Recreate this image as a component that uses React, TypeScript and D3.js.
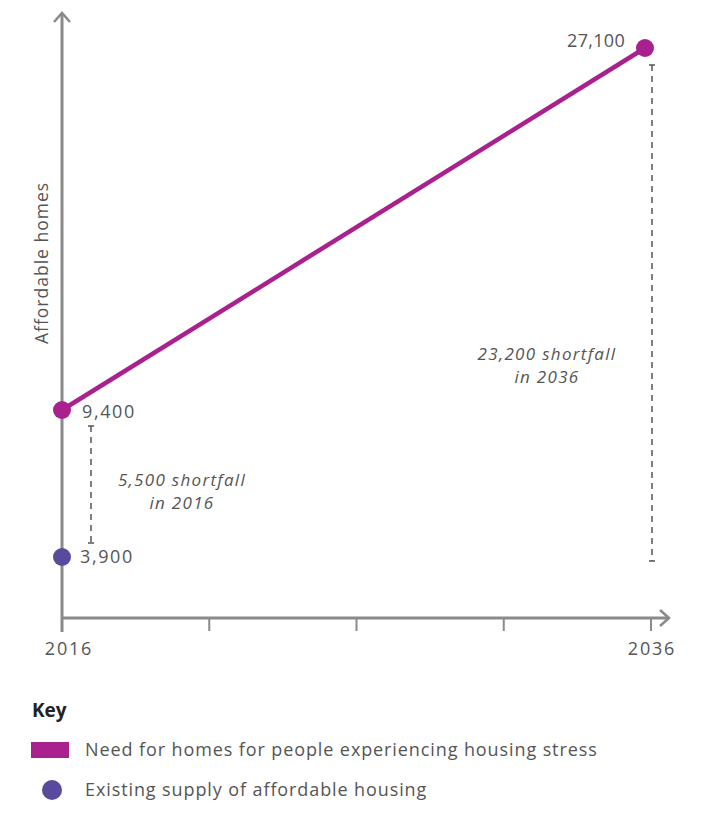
import React from "react";
import * as d3 from "d3";

const years = [2016, 2036];
const need = [9400, 27100];
const supply = [3900];
const supplyFlat = [3900, 3900];
const shortfall = [5500, 23200];
const tickYears = [2016, 2021, 2026, 2031, 2036];
const tickLabels = ["2016", "", "", "", "2036"];
const needLabels = ["9,400", "27,100"];
const supplyLabels = ["3,900"];
const legendItems = ["Need for homes for people experiencing housing stress", "Existing supply of affordable housing"];

const MAGENTA = "#A8218E";
const PURPLE = "#5A4A9E";
const AXIS = "#8a8a8a";
const TEXT = "#555";
const FONT = "'Open Sans', 'Noto Sans', sans-serif";

export default function App() {
  const W = 706, H = 814;
  const x0 = 62, x1 = 651, yAxis = 618;
  const x = d3.scaleLinear().domain([2016, 2036]).range([x0, x1]);
  const xPt = d3.scaleLinear().domain([2016, 2036]).range([x0, x1 - 6]);
  // schematic (non-uniform) vertical scale
  const y = d3.scaleLinear().domain([0, 3900, 9400, 27100]).range([yAxis, 557, 410, 48]);

  const line = d3.line<number>().x((_, i) => xPt(years[i])).y((d) => y(d));

  const dashX = [x(2016) + 29, x(2036) + 1];

  return (
    <div style={{ margin: -8 }}>
      <svg width={W} height={H} style={{ display: "block", fontFamily: FONT }}>
        {/* axes */}
        <line x1={x0} x2={x0} y1={yAxis + 14} y2={14} stroke={AXIS} strokeWidth={3} />
        <path d={`M${x0 - 8},${22} L${x0},${13} L${x0 + 8},${22}`} fill="none" stroke={AXIS} strokeWidth={2.5} />
        <line x1={x0} x2={668} y1={yAxis} y2={yAxis} stroke={AXIS} strokeWidth={3} />
        <path d={`M${660},${610} L${669},${618} L${660},${626}`} fill="none" stroke={AXIS} strokeWidth={2.5} />
        {tickYears.map((t, i) => (
          <g key={t}>
            <line x1={x(t)} x2={x(t)} y1={yAxis} y2={yAxis + 13} stroke={AXIS} strokeWidth={2} />
            {tickLabels[i] && (
              <text x={x(t) + (i === 0 ? 7 : 1)} y={655} textAnchor="middle" fontSize={18} fill={TEXT} letterSpacing={1.8}>
                {tickLabels[i]}
              </text>
            )}
          </g>
        ))}
        <text transform={`translate(48,263) rotate(-90)`} textAnchor="middle" fontSize={17.5} fill={TEXT} letterSpacing={1}>
          Affordable homes
        </text>

        {/* shortfall dashed lines */}
        {years.map((yr, i) => {
          const top = y(need[i]) + (i === 0 ? 16 : 17);
          const bot = y(supplyFlat[i]) - (i === 0 ? 14 : -4);
          return (
            <g key={yr} stroke="#555" strokeWidth={1.5}>
              <line x1={dashX[i]} x2={dashX[i]} y1={top} y2={bot} strokeDasharray="6,5" />
              <line x1={dashX[i] - 3} x2={dashX[i] + 3} y1={top} y2={top} />
              <line x1={dashX[i] - 3} x2={dashX[i] + 3} y1={bot} y2={bot} />
            </g>
          );
        })}
        <g fontSize={17} fill={TEXT} fontStyle="italic" textAnchor="middle" letterSpacing={1.3}>
          <text x={182} y={486}>{`${d3.format(",")(shortfall[0])} shortfall`}</text>
          <text x={182} y={509}>in 2016</text>
          <text x={547} y={360}>{`${d3.format(",")(shortfall[1])} shortfall`}</text>
          <text x={547} y={383}>in 2036</text>
        </g>

        {/* need line */}
        <path d={line(need) || ""} fill="none" stroke={MAGENTA} strokeWidth={4.5} />
        {need.map((v, i) => (
          <circle key={i} cx={xPt(years[i])} cy={y(v)} r={9} fill={MAGENTA} />
        ))}
        <text x={xPt(2016) + 20} y={y(need[0]) + 8} fontSize={18} fill={TEXT} letterSpacing={1.6}>{needLabels[0]}</text>
        <text x={xPt(2036) - 20} y={y(need[1]) - 1} textAnchor="end" fontSize={18} fill={TEXT} letterSpacing={0.3}>{needLabels[1]}</text>

        {/* supply */}
        {supply.map((v, i) => (
          <g key={i}>
            <circle cx={xPt(years[i])} cy={y(v)} r={9} fill={PURPLE} />
            <text x={xPt(years[i]) + 18} y={y(v) + 6} fontSize={18} fill={TEXT} letterSpacing={1.6}>{supplyLabels[i]}</text>
          </g>
        ))}

        {/* key */}
        <text x={32} y={717} fontSize={19} fontWeight="bold" fill="#222">Key</text>
        <rect x={31} y={742} width={38} height={16} fill={MAGENTA} />
        <text x={85} y={756} fontSize={18} fill={TEXT} letterSpacing={0.9}>{legendItems[0]}</text>
        <circle cx={52} cy={790} r={10} fill={PURPLE} />
        <text x={85} y={796} fontSize={18} fill={TEXT} letterSpacing={0.9}>{legendItems[1]}</text>
      </svg>
    </div>
  );
}
